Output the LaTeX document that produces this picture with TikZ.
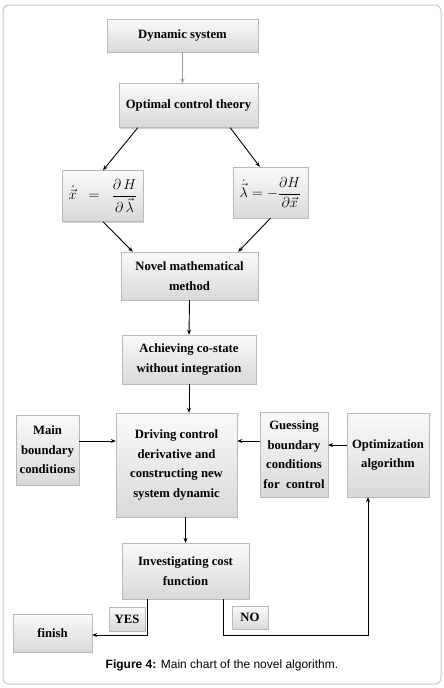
\documentclass[tikz,border=0pt]{standalone}
\usepackage{amsmath,amssymb}
\usepackage{fontspec}
\setmainfont{Liberation Serif}
\newfontfamily\capfont{Liberation Sans}
\usetikzlibrary{arrows.meta,positioning,shadows,calc}
\definecolor{frameline}{RGB}{200,200,200}
\definecolor{boxline}{RGB}{185,185,185}
\tikzset{
  flowbox/.style={draw=boxline, top color=gray!4, bottom color=gray!30,
    drop shadow={shadow xshift=0.8pt, shadow yshift=-1.4pt, fill=gray!70},
    font=\fontsize{12.7}{19.5}\selectfont\bfseries, align=center,
    inner sep=0pt},
  eqbox/.style={flowbox, font=\fontsize{15}{17}\selectfont},
  flow/.style={-{Stealth[length=5pt,width=4pt]}, line width=0.9pt, black},
}

\begin{document}
\begin{tikzpicture}[x=1pt,y=1pt]
    \useasboundingbox (0,0) rectangle (444,-688);
    % frame
    \draw[frameline, line width=1pt, rounded corners=6pt] (3,-5) rectangle (441,-684);
    % boxes
    \node[flowbox, minimum width=151pt, minimum height=33pt] (dyn) at (182.5,-35.5) {Dynamic system};
    \node[flowbox, minimum width=139pt, minimum height=44pt] (oct) at (188.5,-105.5) {Optimal control theory};
    \node[eqbox, minimum width=81pt, minimum height=51pt] (eqL) at (103,-196)
      {$\dot{\vec{x}}\;\;=\;\;\dfrac{\partial\, H}{\partial\, \vec{\lambda}}$};
    \node[eqbox, minimum width=75pt, minimum height=51pt] (eqR) at (270.5,-192.5)
      {$\dot{\vec{\lambda}}=-\dfrac{\partial H}{\partial \vec{x}}$};
    \node[flowbox, minimum width=137pt, minimum height=48pt] (nmm) at (189.5,-276) {Novel mathematical\\ method};
    \node[flowbox, minimum width=134pt, minimum height=49pt] (ach) at (189,-359.5) {Achieving co-state\\ without integration};
    \node[flowbox, minimum width=121pt, minimum height=104pt] (drv) at (176.5,-465)
      {Driving control\\ derivative and\\ constructing new\\ system dynamic};
    \node[flowbox, minimum width=63pt, minimum height=70pt] (mbc) at (47.5,-450) {Main\\ boundary\\ conditions};
    \node[flowbox, minimum width=68pt, minimum height=85pt] (gbc) at (294,-454.5)
      {Guessing\\ boundary\\ conditions\\ for~ control};
    \node[flowbox, minimum width=82pt, minimum height=84pt] (opt) at (388,-455) {Optimization\\ algorithm};
    \node[flowbox, minimum width=127pt, minimum height=56pt] (inv) at (185.5,-571) {Investigating cost\\ function};
    \node[flowbox, minimum width=36pt, minimum height=24pt] (yes) at (127,-619) {YES};
    \node[flowbox, minimum width=36pt, minimum height=23pt] (no) at (250,-617.5) {NO};
    \node[flowbox, minimum width=79pt, minimum height=38pt] (fin) at (52.5,-633) {finish};
    % connectors
    \draw[flow, gray!80] (dyn.south) -- (dyn.south |- oct.north);
    \draw[flow] ([xshift=19pt]oct.south west) -- (eqL.north);
    \draw[flow] ([xshift=-28pt]oct.south east) -- ([xshift=27pt]eqR.north west);
    \draw[flow] (eqL.south) -- ([xshift=12pt]nmm.north west);
    \draw[flow] (eqR.south) -- ([xshift=-20pt]nmm.north east);
    \draw[flow] (nmm.south) -- (ach.north);
    \draw[flow] (ach.south) -- (ach.south |- drv.north);
    \draw[flow] ([yshift=9pt]mbc.east) -- ([yshift=9pt]mbc.east -| drv.west);
    \draw[flow] ([yshift=13.5pt]gbc.west) -- ([yshift=13.5pt]gbc.west -| drv.east);
    \draw[flow] ([yshift=10pt]opt.west) -- ([yshift=10pt]opt.west -| gbc.east);
    \draw[flow] (inv.north |- drv.south) -- (inv.north);
    % yes / no branches
    \draw[flow] ([xshift=26pt]inv.south west) |- ([yshift=-2pt]fin.east);
    \draw[flow] ([xshift=-26pt]inv.south east) -- ++(0,-36) -| ([xshift=-20pt]opt.south);
    % caption
    \node[font=\capfont\fontsize{12}{14}\selectfont] (cap) at (222,-665)
      {\textbf{Figure 4:} Main chart of the novel algorithm.};
\end{tikzpicture}
\end{document}
